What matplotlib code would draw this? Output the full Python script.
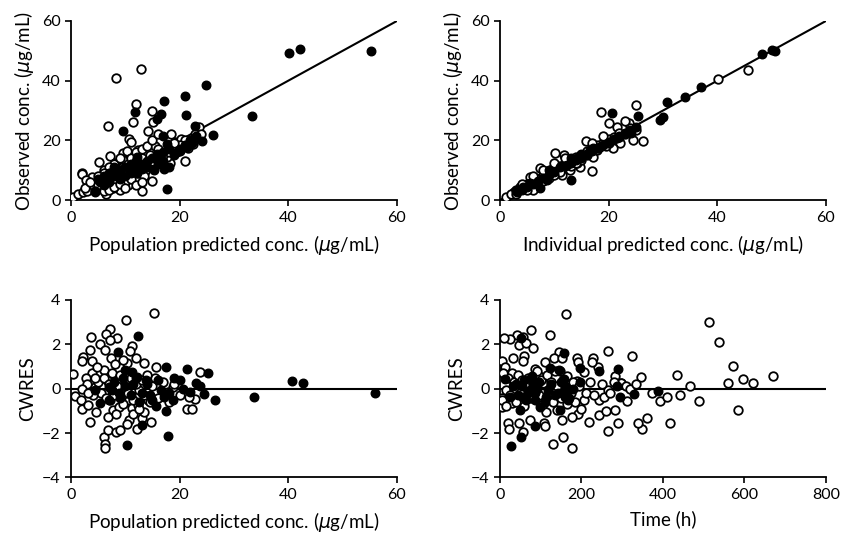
import matplotlib.pyplot as plt

plt.rcParams['font.family'] = ['Lato', 'DejaVu Sans']

# Panel 1: population predicted (x) vs observed (y)
pred_open_x = [8.2, 12.8, 12.0, 15.0, 11.4, 6.8, 15.1, 14.2, 10.7, 11.1, 18.5, 23.6, 23.2, 20.9, 15.5,
               7.2, 5.2, 9.5, 2.1, 2.0, 14.9, 13.1, 6.4, 0.4, 1.3, 2.3, 3.3, 3.9, 9.0, 7.7,
               10.5, 12.3, 13.7, 18.2, 16.4, 17.6, 19.2, 20.2, 21.6, 22.5, 22.8, 12.4, 10.3, 9.6, 8.1,
               6.0, 3.9, 2.8, 8.4, 10.3, 11.6,
               4, 5, 5.5, 6, 6.5, 7, 7.5, 8, 8.5, 9, 9.5, 10, 10.5, 11, 11.5, 12, 12.5, 13, 13.5,
               14, 14.5, 15, 16, 17, 18, 19, 8, 9, 7, 6, 5, 10, 11, 12, 13, 3, 2.5, 3.5, 4.5,
               6, 7, 8, 9, 10, 11, 12, 13, 14, 15, 16, 21, 22, 23, 24, 20, 19]
pred_open_y = [41.0, 44.0, 32.2, 29.9, 26.1, 24.7, 26.1, 23.3, 20.4, 19.5, 22.1, 24.6, 21.2, 13.2, 18.2,
               14.9, 12.7, 15.7, 9.2, 8.9, 6.3, 3.1, 2.0, 1.1, 2.1, 2.6, 4.3, 5.9, 3.4, 4.0,
               5.2, 9.0, 9.6, 12.3, 14.6, 14.6, 19.6, 20.4, 17.6, 18.7, 22.1, 16.8, 16.3, 13.4, 12.3,
               10.1, 7.8, 6.7, 6.7, 7.8, 10.6,
               4, 5, 7, 6, 8, 5, 9, 7, 10, 8, 11, 9, 12, 10, 13, 11, 12, 14, 8,
               12, 15, 13, 17, 15, 16, 18, 12, 14, 11, 9, 8, 6, 7, 5, 6, 3, 4, 6, 3,
               3, 3.5, 4.5, 5.5, 4, 14, 16, 17, 18, 20, 22, 20, 19.5, 21, 22, 18.5, 19]
pred_fill_x = [40.1, 42.2, 55.3, 33.3, 24.8, 21.0, 21.2, 17.2, 16.6, 15.8, 11.8, 9.6, 26.2, 22.9, 24.1,
               17.0, 17.7, 17.1, 15.3, 19.5, 20.0, 17.7, 15.8, 16.4, 12.1, 13.8, 12.1, 7.2, 6.6, 5.4,
               4.4, 21.3, 22.2,
               5, 6, 7, 8, 9, 10, 11, 12, 13, 14, 15, 16, 17, 18, 19, 9, 10, 11, 7, 6, 8, 12, 13,
               14, 20, 21, 22, 23, 16, 17, 18]
pred_fill_y = [49.2, 50.6, 50.1, 28.3, 38.4, 35.0, 28.4, 33.1, 28.9, 27.3, 29.4, 23.2, 21.8, 24.7, 19.8,
               21.6, 3.7, 10.3, 10.2, 16.2, 16.5, 18.7, 15.3, 13.4, 14.5, 11.5, 9.0, 9.0, 6.7, 6.2,
               2.8, 17.9, 19.0,
               7, 8, 9, 8, 10, 11, 12, 13, 12, 13, 14, 14, 16, 17, 15, 7, 8, 9, 6, 5, 11, 10, 10.5,
               11, 17, 18.5, 20, 21.5, 12, 13, 11]

# Panel 2: individual predicted (x) vs observed (y)
ipred_open_x = [45.7, 40.1, 25.0, 18.6, 20.1, 21.5, 23.8, 24.5, 26.3, 22.1, 20.8, 15.8, 10.1, 11.8, 17.2,
                14.7, 16.9, 12.9, 11.4, 7.4, 5.5, 3.7, 2.5, 1.1, 8.6, 9.5, 6.1, 19.6, 17.8, 14.1,
                2, 3, 4, 5, 6, 6.5, 7, 8, 9, 9.5, 10, 11, 12, 13, 14, 15, 16, 17, 18, 19, 20, 21,
                22, 23, 24, 5, 7, 9, 11, 13, 15, 4, 6, 8, 10, 12, 3, 8, 10, 14, 16, 18, 20, 22,
                25, 19, 17, 23]
ipred_open_y = [43.6, 40.6, 32.0, 29.6, 25.9, 24.6, 25.9, 20.1, 19.8, 19.0, 17.3, 19.9, 15.9, 15.0, 14.5,
                11.2, 9.8, 10.1, 8.4, 10.6, 7.8, 4.5, 2.8, 1.1, 9.5, 8.4, 3.4, 18.2, 16.8, 12.3,
                2, 3.5, 4, 5.5, 6, 7.5, 7, 8.5, 9, 10.5, 10, 11.5, 12, 13, 14.5, 15, 16.5, 17, 18.5,
                19, 20.5, 21, 22.5, 22, 24, 3.5, 5.5, 7.5, 9.5, 11.5, 13.5, 5.5, 8, 10, 12.5, 14, 2,
                6.5, 8.5, 12.5, 15, 17.5, 19, 21, 23.5, 21.5, 19, 26.5]
ipred_fill_x = [50.7, 50.1, 48.2, 37.1, 34.0, 30.7, 30.0, 29.5, 25.5, 20.6, 13.1, 23.9, 24.1, 21.6, 16.6,
                15.3, 14.2, 12.4, 11.3, 8.6, 7.4, 4.3, 3.1, 5.5, 17.2, 18.4,
                3, 4, 5, 6, 7, 8, 9, 10, 11, 12, 13, 14, 15, 16, 17, 18, 19, 20, 21, 22, 23, 24,
                25, 9, 13, 15]
ipred_fill_y = [49.8, 50.3, 49.0, 38.0, 34.7, 32.8, 28.0, 27.0, 28.3, 29.1, 6.7, 23.5, 22.4, 20.8, 16.8,
                15.2, 14.1, 11.9, 11.4, 6.7, 3.9, 4.5, 2.8, 5.6, 17.3, 17.8,
                3, 3.5, 4.5, 5.5, 6.5, 7.5, 8.5, 9.5, 11, 11.5, 12.5, 13.5, 15.5, 15.5, 16.5, 17.5,
                18.5, 19.5, 20.5, 21.5, 22.5, 23, 24.5, 10, 14, 14]

# Panel 3: population predicted (x) vs CWRES (y)
cw_pred_open_x = [15.3, 10.1, 7.2, 6.4, 8.5, 3.6, 7.2, 5.4, 6.2, 3.5, 2.2, 2.0, 3.8, 11.2, 10.8,
                  11.9, 10.4, 13.4, 15.6, 9.6, 7.3, 0.4, 0.7, 1.9, 2.0, 3.1, 3.5, 4.6, 6.0, 6.3,
                  6.2, 6.9, 8.2, 9.1, 10.6, 12.1, 13.1, 14.8, 10.4, 21.3, 22.2, 22.8, 21.7, 23.8, 18.8,
                  17.9, 3.9, 2.8, 4.4, 6.0, 4.8, 6.6, 8.1, 8.7, 10.2, 12.6, 14.1, 6.0, 7.2, 7.7,
                  8.8, 10.6, 11.2, 12.4, 13.4, 6.8, 8.3, 11.5, 15.4,
                  5, 5.5, 6, 6.5, 7, 7.5, 8, 8.5, 9, 9.5, 10, 10.5, 11, 11.5, 12, 12.5, 13, 13.5,
                  14, 14.5, 15, 16, 17, 18, 19, 20, 4, 3, 2, 4.5, 3.2]
cw_pred_open_y = [3.42, 3.08, 2.67, 2.47, 2.27, 2.34, 2.2, 2.0, 1.75, 1.75, 1.44, 1.23, 1.23, 1.93, 1.7,
                  1.4, 1.18, 1.15, 0.97, 1.29, 1.4, 0.66, -0.33, -0.51, -0.92, -0.74, -1.48, -1.07, -2.17, -2.5,
                  -2.66, -1.87, -1.95, -1.87, -1.43, -1.8, -1.33, -1.48, -1.58, -0.91, -0.91, -0.45, -0.36, 0.76, 0.06,
                  -0.13, 0.69, 0.47, 0.08, 0.84, 0.99, 0.38, 1.13, 0.38, 0.23, -0.06, -0.51, -0.21, -0.51, -0.96,
                  -0.81, -0.51, -0.88, -0.73, -1.03, -1.28, -1.13, -1.13, 0.47,
                  0.3, -0.2, 0.5, -0.4, 0.2, 0.7, -0.3, 0.1, 0.6, -0.7, 0.3, -0.2, 0.5, -0.5, 0.2, -0.9,
                  0.4, -0.3, 0.6, -0.6, 0.1, -0.4, 0.3, -0.6, 0.2, -0.3, -0.3, 0.2, 0.0, 0.5, -0.2]
cw_pred_fill_x = [40.7, 42.8, 56.0, 33.7, 26.5, 25.3, 21.3, 17.5, 17.9, 10.3, 12.3, 8.6, 13.1, 17.5, 15.6,
                  23.1, 23.8, 24.5, 18.8, 17.2, 16.6, 13.9, 12.1, 10.0, 11.3, 5.3, 7.0, 7.6, 8.8, 4.4,
                  20.7, 21.9,
                  8, 9, 10, 11, 12, 13, 14, 15, 16, 7, 9.5, 11.5, 12.5, 14.5, 19, 20, 18]
cw_pred_fill_y = [0.36, 0.27, -0.21, -0.37, -0.52, 0.72, 0.89, 0.98, -2.13, -2.54, 2.39, 1.64, -1.64, -1.02, -0.78,
                  0.24, 0.1, -0.24, -0.51, -0.36, -0.06, 0.39, 0.54, 0.84, 0.77, -0.66, 0.08, -0.06, -0.21, -0.06,
                  0.0, -0.15,
                  0.3, -0.4, 0.1, -0.3, 0.5, -0.2, 0.2, -0.5, 0.4, -0.5, 0.5, 0.2, -0.6, -0.3, 0.5, 0.4, -0.2]

# Panel 4: time (x) vs CWRES (y)
time_open_x = [513, 537, 573, 560, 597, 622, 669, 585, 489, 466, 442, 434, 418, 393, 409,
               372, 362, 348, 338, 346, 323, 313, 298, 290, 266, 282, 266, 241, 229, 242,
               218, 207, 192, 177, 162, 123, 75, 57, 41, 25, 10, 47, 65, 82, 4,
               31, 59, 57, 146, 133, 152, 188, 192, 110, 148, 164, 20, 22, 57, 46,
               131, 155, 178, 108, 111, 152, 74, 4, 6, 14, 30, 90, 114, 139, 188,
               207, 243, 256, 266, 282, 298, 106, 41, 29, 12, 97, 85, 34,
               20, 25, 35, 40, 45, 50, 55, 60, 70, 75, 80, 90, 95, 100, 105, 115, 120, 125,
               130, 135, 140, 150, 155, 165, 170, 175, 180, 185, 195, 200, 210, 220, 225, 230,
               250, 260, 270, 280, 310, 320, 335, 5, 8, 15]
time_open_y = [3.02, 2.09, 1.04, 0.27, 0.42, 0.24, 0.57, -0.96, -0.54, 0.12, -0.3, 0.63, -1.56, -0.54, -0.36,
               -0.18, -1.32, -1.82, -1.56, 0.53, 1.47, -0.54, 0.24, -1.56, -1.91, -0.96, 1.7, 0.99, 1.4, -1.18,
               -1.51, 0.77, -1.16, -1.26, 3.36, 2.42, 2.64, 2.34, 2.42, 2.24, 2.3, 1.97, 2.04, 1.82, 1.26,
               1.38, 1.46, 1.23, 1.65, 1.37, 1.4, 1.37, 1.22, 1.22, 0.78, 0.56, -1.53, -1.8, -1.94, -1.53,
               -2.5, -2.17, -2.66, -1.56, -1.7, -1.43, -1.4, -0.81, -0.42, -0.05, -0.65, -0.51, -1.05, -0.96, 0.35,
               -0.5, -0.5, -0.36, -0.05, 0.56, 0.27, 0.27, 0.27, 0.69, 1.0, 0.56, 0.87, -0.05,
               0.5, -0.3, 0.3, -0.6, 0.6, -0.2, 0.4, -0.8, 0.5, -0.4, 0.2, 0.8, -0.3, 0.4, -0.7, 0.6,
               -0.2, 0.3, -0.6, 0.8, 0.1, -0.4, 0.4, -0.7, 0.2, -0.2, 0.3, -0.6, 0.1, -0.9, -0.2, 0.3,
               1.2, -0.3, 0.2, -1.0, -0.2, 0.3, 0.1, 0.0, 0.2, -0.5, 0.7, -0.8]
time_fill_x = [27, 52, 52, 157, 197, 243, 290, 197, 294, 329, 389, 287, 85, 147, 124,
               145, 157, 49, 65, 73, 82, 33, 12, 98, 114, 143, 160, 168, 57, 24,
               78, 86, 119, 168,
               40, 45, 55, 60, 70, 75, 85, 90, 95, 110, 125, 135, 150, 155, 160, 170, 180]
time_fill_y = [-2.58, -2.16, 2.3, 1.62, 0.92, 0.78, 0.87, 0.3, -0.39, -0.25, -0.09, 0.1, -1.68, -0.97, 0.95,
               0.83, 0.45, -0.96, -0.5, -0.05, 0.27, 0.12, 0.45, -0.81, -0.36, -0.2, -0.36, -0.51, -0.36, -0.36,
               0.56, -0.2, -0.05, -0.05,
               0.2, -0.3, 0.1, 0.4, -0.2, 0.5, -0.5, 0.0, 0.3, -0.6, 0.2, -0.3, 0.3, -0.2, 0.1, -0.4, 0.0]


def draw_panel(ax, ox, oy, fx, fy, ref_x, ref_y, xlim, ylim, xticks, yticks, xlabel, ylabel):
    # open circles first, filled ones on top
    ax.scatter(ox, oy, s=38, facecolors='white', edgecolors='black', linewidths=1.3, zorder=3)
    ax.scatter(fx, fy, s=38, facecolors='black', edgecolors='black', linewidths=1.0, zorder=4)
    ax.plot(ref_x, ref_y, 'k-', lw=1.5, zorder=2)
    ax.set_xlim(*xlim)
    ax.set_ylim(*ylim)
    ax.set_xticks(xticks)
    ax.set_yticks(yticks)
    ax.spines['top'].set_visible(False)
    ax.spines['right'].set_visible(False)
    ax.spines['left'].set_linewidth(1.3)
    ax.spines['bottom'].set_linewidth(1.3)
    ax.tick_params(direction='out', length=4, width=1.2, labelsize=11.5)
    ax.set_xlabel(xlabel, fontsize=13.5, labelpad=6)
    ax.set_ylabel(ylabel, fontsize=13.5, labelpad=4)
    for sp in ax.spines.values():
        sp.set_clip_on(False)


fig = plt.figure(figsize=(8.51, 5.38), dpi=100)
ax1 = fig.add_axes([0.0834, 0.628, 0.383, 0.333])
ax2 = fig.add_axes([0.5875, 0.628, 0.383, 0.333])
ax3 = fig.add_axes([0.0834, 0.1125, 0.383, 0.330])
ax4 = fig.add_axes([0.5875, 0.1125, 0.383, 0.330])

conc = r'($\mu$g/mL)'
draw_panel(ax1, pred_open_x, pred_open_y, pred_fill_x, pred_fill_y, [0, 60], [0, 60],
           (0, 60), (0, 60), [0, 20, 40, 60], [0, 20, 40, 60],
           'Population predicted conc. ' + conc, 'Observed conc. ' + conc)
draw_panel(ax2, ipred_open_x, ipred_open_y, ipred_fill_x, ipred_fill_y, [0, 60], [0, 60],
           (0, 60), (0, 60), [0, 20, 40, 60], [0, 20, 40, 60],
           'Individual predicted conc. ' + conc, 'Observed conc. ' + conc)
draw_panel(ax3, cw_pred_open_x, cw_pred_open_y, cw_pred_fill_x, cw_pred_fill_y, [0, 60], [0, 0],
           (0, 60), (-4, 4), [0, 20, 40, 60], [-4, -2, 0, 2, 4],
           'Population predicted conc. ' + conc, 'CWRES')
draw_panel(ax4, time_open_x, time_open_y, time_fill_x, time_fill_y, [0, 800], [0, 0],
           (0, 800), (-4, 4), [0, 200, 400, 600, 800], [-4, -2, 0, 2, 4],
           'Time (h)', 'CWRES')

fig.savefig('out.png', dpi=100)
